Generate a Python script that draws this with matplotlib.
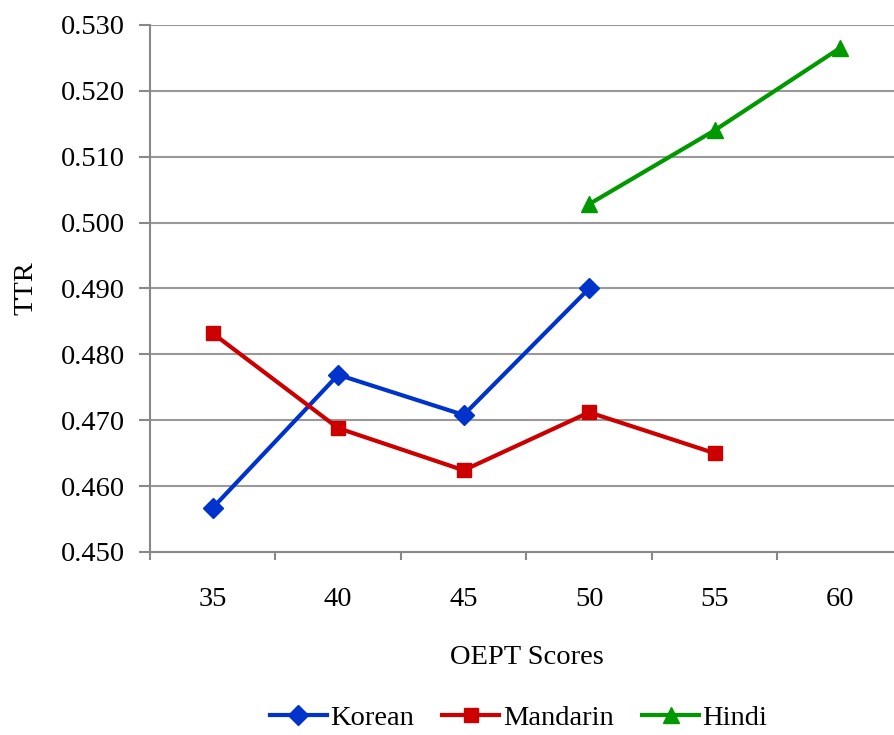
import numpy as np
import matplotlib.pyplot as plt

scores = ['35', '40', '45', '50', '55', '60']
korean = [0.4567, 0.4769, 0.4708, 0.4900]
mandarin = [0.4832, 0.4688, 0.4624, 0.4712, 0.4650]
hindi = [0.5028, 0.5140, 0.5265]
hindi_start = 3

plt.rcParams['font.family'] = ['Liberation Serif', 'DejaVu Serif']
fs = 20.5

fig = plt.figure(figsize=(8.94, 7.35), dpi=100)
ax = fig.add_axes([0.1678, 0.249, 0.842, 0.717])

ax.plot(np.arange(len(korean)), korean, color='#0033CC', lw=3,
        marker='D', ms=10, label='Korean')
ax.plot(np.arange(len(mandarin)), mandarin, color='#CC0000', lw=3,
        marker='s', ms=10, label='Mandarin')
ax.plot(np.arange(len(hindi)) + hindi_start, hindi, color='#009900', lw=3,
        marker='^', ms=11, label='Hindi')

ax.set_xlim(-0.5, len(scores) - 0.5)
ax.set_ylim(0.450, 0.530)
ax.set_yticks(np.arange(0.450, 0.5301, 0.010))
ax.set_yticklabels([f'{v:.3f}' for v in np.arange(0.450, 0.5301, 0.010)])
ax.set_xticks(np.arange(len(scores)))
ax.set_xticklabels(scores)
ax.set_xticks(np.arange(len(scores) + 1) - 0.5, minor=True)
ax.tick_params(axis='x', which='major', length=0, pad=25, labelsize=fs)
ax.tick_params(axis='x', which='minor', length=6, color='#888888', width=1.5)
ax.tick_params(axis='y', length=8, color='#888888', width=1.5, labelsize=fs, pad=10)

ax.grid(axis='y', color='#999999', lw=1.5)
ax.set_axisbelow(True)
for s in ['top', 'right']:
    ax.spines[s].set_visible(False)
for s in ['left', 'bottom']:
    ax.spines[s].set_color('#888888')
    ax.spines[s].set_linewidth(1.5)

ax.set_xlabel('OEPT Scores', fontsize=fs, labelpad=24)
ax.set_ylabel('TTR', fontsize=fs, labelpad=16)

fig.legend(loc='lower center', bbox_to_anchor=(0.58, -0.03), ncol=3, frameon=False,
           fontsize=fs, handlelength=2.0, handletextpad=0.12, columnspacing=1.0)

fig.savefig('out.png', dpi=100)
